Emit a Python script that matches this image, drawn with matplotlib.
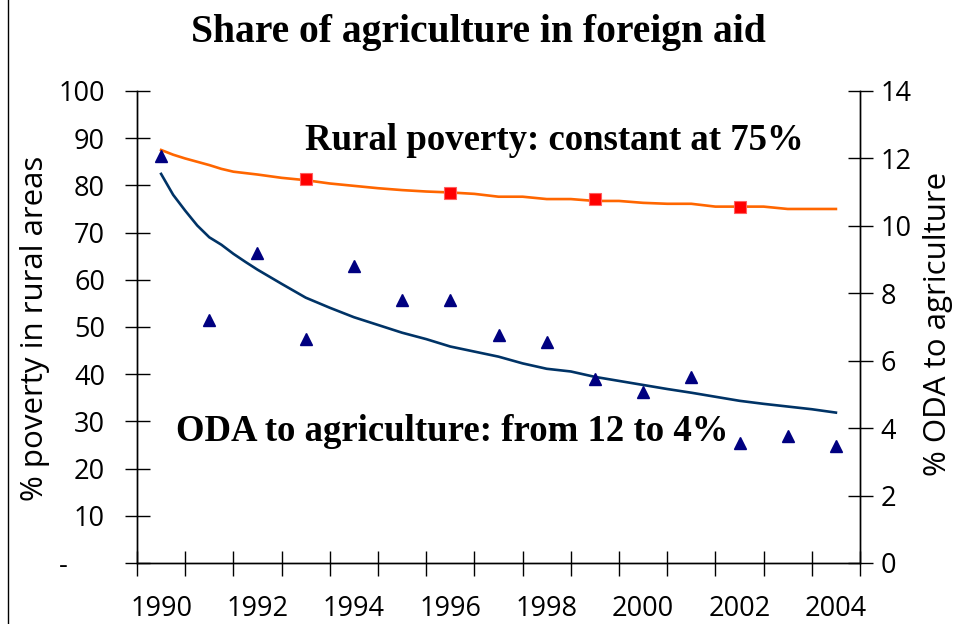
import numpy as np
import matplotlib
matplotlib.use("Agg")
import matplotlib.pyplot as plt
import matplotlib.transforms as mtransforms
from matplotlib.lines import Line2D

# categories
years = [1990, 1991, 1992, 1993, 1994, 1995, 1996, 1997, 1998, 1999, 2000, 2001, 2002, 2003, 2004]
year_labels = ["1990", "1992", "1994", "1996", "1998", "2000", "2002", "2004"]

# ODA to agriculture, % (right axis) - yearly observations
oda_share = [12.07, 7.21, 9.20, 6.64, 8.81, 7.80, 7.80, 6.76, 6.56, 5.46, 5.07, 5.53, 3.55, 3.78, 3.48]

# trend lines (quarter years at the start, then half years)
trend_x = [1990, 1990.25, 1990.5, 1990.75, 1991, 1991.25, 1991.5, 1991.75, 1992,
           1992.5, 1993, 1993.5, 1994, 1994.5, 1995, 1995.5, 1996, 1996.5, 1997,
           1997.5, 1998, 1998.5, 1999, 1999.5, 2000, 2000.5, 2001, 2001.5, 2002,
           2002.5, 2003, 2003.5, 2004]
oda_trend = [11.54, 10.92, 10.45, 10.01, 9.66, 9.44, 9.17, 8.93, 8.70,
             8.28, 7.87, 7.57, 7.29, 7.06, 6.83, 6.64, 6.42, 6.27, 6.12,
             5.92, 5.76, 5.68, 5.52, 5.40, 5.28, 5.16, 5.05, 4.93, 4.81,
             4.72, 4.64, 4.56, 4.46]
poverty_trend = [87.5, 86.5, 85.7, 85.0, 84.3, 83.5, 82.9, 82.6, 82.3,
                 81.6, 81.1, 80.4, 79.9, 79.4, 79.0, 78.7, 78.5, 78.2, 77.6,
                 77.6, 77.1, 77.1, 76.7, 76.7, 76.3, 76.1, 76.1, 75.5, 75.5,
                 75.5, 75.0, 75.0, 75.0]

# rural poverty observations
poverty_years = [1993, 1996, 1999, 2002]
poverty_share = [81.3, 78.3, 77.1, 75.5]

left_ticks = [0, 10, 20, 30, 40, 50, 60, 70, 80, 90, 100]
left_labels = ["-", "10", "20", "30", "40", "50", "60", "70", "80", "90", "100"]
right_ticks = [0, 2, 4, 6, 8, 10, 12, 14]

plt.rcParams['font.family'] = ['Open Sans', 'DejaVu Sans']
serif = ['Liberation Serif', 'DejaVu Serif']

fig = plt.figure(figsize=(9.56, 6.24), dpi=100)
ax = fig.add_axes([0.1433, 0.0978, 0.7563, 0.7564])
ax2 = ax.twinx()

ax.plot(trend_x, poverty_trend, color="#FF6600", lw=1.9, zorder=3)
ax.plot(poverty_years, poverty_share, ls="none", marker="s", ms=8,
        mfc="#FF0000", mec="#FF6060", mew=0.8, zorder=4)

ax2.plot(trend_x, oda_trend, color="#003366", lw=1.9, zorder=3)
ax2.plot(years, oda_share, ls="none", marker="^", ms=8,
         mfc="#000080", mec="#000080", zorder=4)

ax.set_xlim(1989.5, 2004.5)
ax.set_ylim(0, 100)
ax2.set_ylim(0, 14)

ax.set_xticks(np.arange(1989.5, 2005, 1.0))
ax.set_xticklabels([])
ax.set_xticks([int(y) for y in year_labels], minor=True)
ax.set_xticklabels(year_labels, minor=True)
ax.tick_params(axis="x", which="major", direction="inout", length=18, width=1)
ax.tick_params(axis="x", which="minor", length=0, pad=23, labelsize=19.5)

ax.set_yticks(left_ticks)
ax.set_yticklabels(left_labels)
ax.tick_params(axis="y", direction="inout", length=18, width=1, labelsize=19.5, pad=14)
ax2.set_yticks(right_ticks)
ax2.tick_params(axis="y", direction="inout", length=18, width=1, labelsize=19.5, pad=6)

# the zero label is a dash sitting left of the others
dash = ax.get_yticklabels()[0]
dash.set_transform(dash.get_transform() +
                   mtransforms.ScaledTranslation(-0.37, 0, fig.dpi_scale_trans))

for a in (ax, ax2):
    a.spines["top"].set_visible(False)
    for s in ("left", "right", "bottom"):
        a.spines[s].set_linewidth(1)

ax.set_ylabel("% poverty in rural areas", fontsize=22.5)
ax.yaxis.set_label_coords(-0.120, 0.497)
ax2.set_ylabel("% ODA to agriculture", fontsize=22.5)
ax2.yaxis.set_label_coords(1.087, 0.506)

fig.text(0.5, 0.948, "Share of agriculture in foreign aid", ha="center", va="center",
         fontsize=28.5, fontweight="bold", family=serif)
ax.text(1992.99, 89.6, "Rural poverty: constant at 75%", ha="left", va="center",
        fontsize=26.5, fontweight="bold", family=serif, zorder=5)
ax.text(1990.31, 27.8, "ODA to agriculture: from 12 to 4%", ha="left", va="center",
        fontsize=26.5, fontweight="bold", family=serif, zorder=5)

fig.add_artist(Line2D([8 / 956, 8 / 956], [0, 1], color="black", lw=1,
                      transform=fig.transFigure))

fig.savefig("out.png", dpi=100)
